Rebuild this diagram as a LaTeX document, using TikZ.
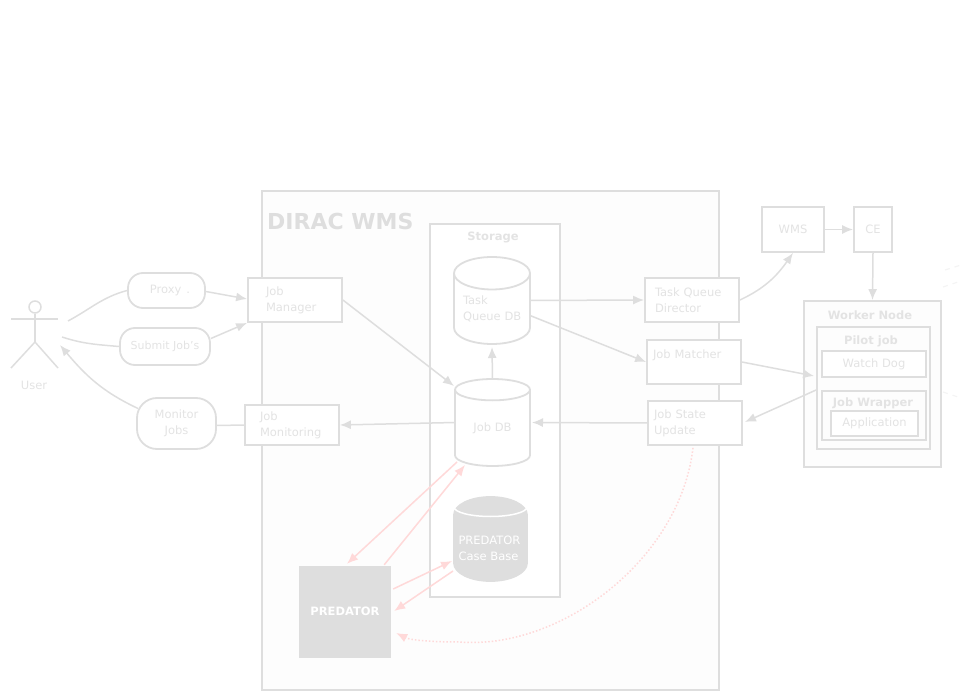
\documentclass[tikz,border=0pt]{standalone}
\usepackage{fontspec}
\setmainfont{DejaVu Sans}
\usetikzlibrary{
        shapes.geometric,
        arrows.meta
    }
\definecolor{wmsgrey}{HTML}{DEDEDE}
\definecolor{wmstext}{HTML}{E3E3E3}
\definecolor{wmspink}{HTML}{FFD9D9}
\definecolor{wmspale}{HTML}{FDFDFD}
\definecolor{wmsfaint}{HTML}{F4F4F4}
\begin{document}
\begin{tikzpicture}
[x=1pt, y=-1pt,
baseshape/.style={draw=wmsgrey, line width=1.8pt, text=wmstext, font=\fontsize{11.5}{16}\selectfont, inner ysep=0pt},
box/.style={baseshape, rectangle, fill=white, align=left},
usecase/.style={baseshape, rectangle, rounded corners=15pt, align=center, inner xsep=0pt},
group/.style={draw=wmsgrey, line width=1.8pt, fill=wmspale},
heading/.style={text=wmstext, font=\fontsize{11.5}{14}\selectfont\bfseries, inner sep=0pt},
database/.style={baseshape, cylinder, anchor=shape center, fill=white, shape border rotate=90, shape aspect=0.56, align=left, inner xsep=0pt},
arrow/.style={draw=wmsgrey, line width=1.5pt, -{Latex[length=11pt, width=9pt]}},
link/.style={draw=wmsgrey, line width=1.5pt},
predarrow/.style={draw=wmspink, line width=1.5pt, -{Latex[length=11pt, width=9pt]}},
]
    \useasboundingbox (0,0) rectangle (961,700);
    % groups
    \node (dirac) [group, rectangle, minimum width=457pt, minimum height=499pt] at (490.5,440.5) {};
    \node (diractitle) [text=wmsgrey, font=\fontsize{22}{24}\selectfont\bfseries, inner sep=0pt, anchor=west] at (267,221) {DIRAC WMS};
    \node (storage) [group, rectangle, fill=white, minimum width=130pt, minimum height=373pt] at (495,410.5) {};
    \node (storagetitle) [heading] at (493,237) {Storage};
    % user
    \node (head) [draw=wmsgrey, line width=1.5pt, circle, minimum size=12pt, inner sep=0pt] at (35,307) {};
    \coordinate (hip) at (35,342);
    \coordinate (armleft) at (11,319);
    \coordinate (armright) at (58,319);
    \coordinate (footleft) at (11,368);
    \coordinate (footright) at (58,368);
    \draw[link] (head) -- (hip);
    \draw[link] (armleft) -- (armright);
    \draw[link] (footleft) -- (hip) -- (footright);
    \node (userlabel) [text=wmstext, font=\fontsize{11.5}{14}\selectfont, inner sep=0pt] at (34,385) {User};
    \coordinate (userhi) at (68,321);
    \coordinate (usermid) at (62,337);
    \coordinate (userlo) at (60,345);
    % use cases
    \node (proxy) [usecase, minimum width=77pt, minimum height=35pt] at (166.5,290.5) {\hspace*{7pt}Proxy\hspace{5pt}.};
    \node (submit) [usecase, font=\fontsize{11}{16}\selectfont, minimum width=90pt, minimum height=37pt] at (165,346.5) {Submit Job's};
    \node (monitor) [usecase, rounded corners=20pt, minimum width=79pt, minimum height=51pt] at (176.5,423.5) {Monitor\\Jobs};
    % services
    \node (manager) [box, text width=58pt, inner xsep=18pt, minimum height=44pt] at (295,300) {Job\\Manager};
    \node (monitoring) [box, text width=64pt, inner xsep=15pt, minimum height=40pt] at (292,425) {Job\\Monitoring};
    \node (director) [box, text width=74pt, inner xsep=10pt, minimum height=44pt] at (692,300) {Task Queue\\Director};
    \node (matcher) [box, text width=82pt, inner xsep=6pt, minimum height=44pt] at (694,362) {Job Matcher\\~};
    \node (update) [box, text width=82pt, inner xsep=6pt, minimum height=44pt] at (695,423) {Job State\\Update};
    \node (wms) [box, align=center, minimum width=62pt, minimum height=45pt] at (793,229.5) {WMS};
    \node (ce) [box, align=center, minimum width=38pt, minimum height=45pt] at (873,229.5) {CE};
    % databases
    \node (taskdb) [database, text width=58pt, minimum width=76pt, minimum height=87pt] at (492,300.5) {Task\\\mbox{Queue DB}};
    \node (jobdb) [database, minimum width=75pt, minimum height=87pt] at (492.5,422.5) {Job DB};
    \node (casedb) [database, fill=wmsgrey, text=white, text width=64pt, minimum width=73pt, minimum height=84pt] at (490.5,539) {PREDATOR\\Case Base};
    \node (predator) [rectangle, fill=wmsgrey, text=white, font=\fontsize{11.5}{14}\selectfont\bfseries, minimum width=92pt, minimum height=92pt, inner sep=0pt] at (345,612) {\raisebox{2pt}{PREDATOR}};
    \draw[white, line width=1.5pt] ([xshift=-36.5pt,yshift=32pt]casedb.shape center) arc [start angle=180, end angle=360, x radius=36.5pt, y radius=9.5pt];
    % worker node
    \node (worker) [group, rectangle, minimum width=137pt, minimum height=166pt] at (872.5,384) {};
    \node (workertitle) [heading] at (870,315.5) {Worker Node};
    \node (pilot) [group, rectangle, minimum width=113pt, minimum height=122pt] at (873.5,388) {};
    \node (pilottitle) [heading] at (871,341.5) {Pilot job};
    \node (watchdog) [box, align=center, minimum width=104pt, minimum height=26pt] at (874,364) {\raisebox{1pt}{Watch Dog}};
    \node (wrapper) [group, rectangle, minimum width=104pt, minimum height=49pt] at (874,415.5) {};
    \node (wrappertitle) [heading] at (873,403) {Job Wrapper};
    \node (application) [box, align=center, minimum width=87pt, minimum height=25pt] at (874.5,423.5) {Application};
    % connectors
    \draw[link] (userhi) to[out=28, in=195] (proxy.west);
    \draw[link] (usermid) to[out=-18, in=175] (submit.west);
    \draw[arrow] ([xshift=2pt,yshift=15pt]monitor.west) to[out=155, in=-50] (userlo);
    \draw[arrow] ([yshift=-1pt]proxy.east) -- ([yshift=1pt]manager.west);
    \draw[arrow] ([yshift=8pt]submit.east) -- (manager.south west);
    \draw[link] (monitoring.west) -- ([yshift=-2pt]monitor.east);
    \draw[arrow] (manager.east) -- ([xshift=-38.5pt,yshift=36.5pt]jobdb.shape center);
    \draw[arrow] ([xshift=-37.5pt]jobdb.shape center) -- (monitoring.east);
    \draw[arrow] ([yshift=43.5pt]jobdb.shape center) -- ([yshift=-46.5pt]taskdb.shape center);
    \draw[arrow] ([xshift=38pt]taskdb.shape center) -- (director.west);
    \draw[arrow] ([xshift=38pt,yshift=-15pt]taskdb.shape center) -- (matcher.west);
    \draw[arrow] (update.west) -- ([xshift=39.5pt]jobdb.shape center);
    \draw[arrow] (director.east) to[out=25, in=-125] (wms.south);
    \draw[arrow] (wms.east) -- (ce.west);
    \draw[arrow] (ce.south) -- (worker.north);
    \draw[arrow] (matcher.east) -- ([xshift=-2pt,yshift=12pt]pilot.west);
    \draw[arrow] ([yshift=-2pt]pilot.west) -- ([xshift=2pt,yshift=1pt]update.east);
    % predator
    \draw[predarrow] ([xshift=-35.5pt,yshift=-39.5pt]jobdb.shape center) -- ([xshift=2pt,yshift=2pt]predator.north);
    \draw[predarrow] ([xshift=-7pt,yshift=1pt]predator.north east) -- ([xshift=-27.5pt,yshift=-42.5pt]jobdb.shape center);
    \draw[predarrow] ([xshift=2pt,yshift=23pt]predator.east) -- ([xshift=-38.5pt,yshift=-22pt]casedb.shape center);
    \draw[predarrow] ([xshift=-37.5pt,yshift=-32pt]casedb.shape center) -- ([xshift=3pt,yshift=1pt]predator.east);
    \coordinate (curvelow) at (460,642);
    \draw[predarrow, dotted] ([xshift=-2pt,yshift=-2pt]update.south) .. controls (680,560) and (560,650) .. (curvelow) .. controls (430,642) and (410,640) .. ([xshift=5pt,yshift=-21pt]predator.east);
    % cut off at the margin
    \coordinate (faintaa) at (945,270);
    \coordinate (faintab) at (961,265);
    \coordinate (faintba) at (943,287);
    \coordinate (faintbb) at (961,281);
    \coordinate (faintca) at (943,392);
    \coordinate (faintcb) at (958,397);
    \draw[wmsfaint, line width=1.2pt, dash pattern=on 5pt off 5pt] (faintaa) -- (faintab);
    \draw[wmsfaint, line width=1.2pt, dash pattern=on 5pt off 5pt] (faintba) -- (faintbb);
    \draw[wmsfaint, line width=1.2pt, dash pattern=on 5pt off 5pt] (faintca) -- (faintcb);
\end{tikzpicture}
\end{document}
